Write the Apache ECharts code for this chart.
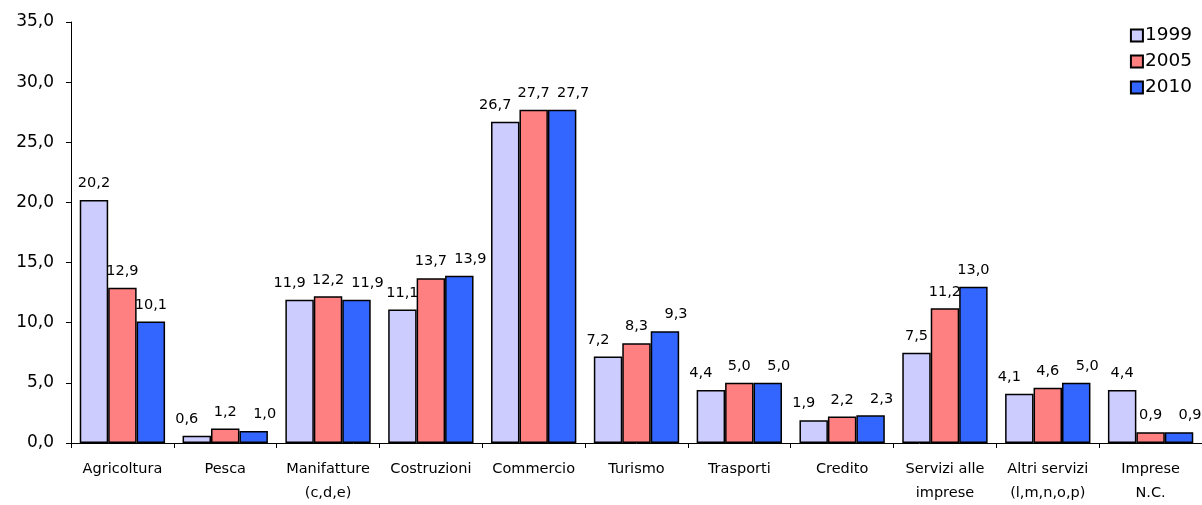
<!DOCTYPE html>
<html><head><meta charset="utf-8">
<script src="https://cdn.jsdelivr.net/npm/echarts@6/dist/echarts.min.js"></script>
<style>html,body{margin:0;padding:0;background:#fff}#c{width:1202px;height:505px}</style>
</head><body><div id="c"></div>
<script>
const categories = ["Agricoltura","Pesca","Manifatture\n(c,d,e)","Costruzioni","Commercio","Turismo","Trasporti","Credito","Servizi alle\nimprese","Altri servizi\n(l,m,n,o,p)","Imprese\nN.C."];
const seriesNames = ["1999","2005","2010"];
const v1999 = [20.2,0.6,11.9,11.1,26.7,7.2,4.4,1.9,7.5,4.1,4.4];
const v2005 = [12.9,1.2,12.2,13.7,27.7,8.3,5.0,2.2,11.2,4.6,0.9];
const v2010 = [10.1,1.0,11.9,13.9,27.7,9.3,5.0,2.3,13.0,5.0,0.9];
const colors = ["#CCCCFF","#FF8080","#3366FF"];
const font = "DejaVu Sans";
const fmt = v => v.toFixed(1).replace('.', ',');
const all = [v1999, v2005, v2010];
const chart = echarts.init(document.getElementById('c'));
// spread labels horizontally when neighbouring labels in a group would collide
function spread(p) {
  const s = p.seriesIndex, i = p.dataIndex;
  const pxPerUnit = 423 / 35;
  const close = (a, b) => Math.abs(all[a][i] - all[b][i]) * pxPerUnit < 16;
  if (s === 0 && close(0, 1)) return {dx: -10};
  if (s === 2 && close(1, 2)) return {dx: 11};
  return {};
}
const mk = (name, data, color) => ({
  name, type: 'bar', data, barGap: '0%', barCategoryGap: '17%',
  itemStyle: {color, borderColor: '#000', borderWidth: 1.5},
  label: {show: true, position: 'top', distance: 9, fontFamily: font, fontSize: 14.5, color: '#000',
    formatter: p => fmt(p.value)},
  labelLayout: spread,
  animation: false
});
chart.setOption({
  animation: false,
  textStyle: {fontFamily: font},
  grid: {left: 71, top: 22, width: 1138, height: 423, containLabel: false},
  legend: {orient: 'vertical', right: 5, top: 21, icon: 'rect', itemWidth: 12, itemHeight: 12, itemGap: 7,
    textStyle: {fontFamily: font, fontSize: 18.5, color: '#000', padding: [0,0,0,-3]},
    data: seriesNames},
  xAxis: {type: 'category', data: categories,
    axisLine: {lineStyle: {color: '#000', width: 1}},
    axisTick: {show: true, length: 5, lineStyle: {color: '#000'}},
    axisLabel: {fontFamily: font, fontSize: 14.5, color: '#000', margin: 14, lineHeight: 24, interval: 0}},
  yAxis: {type: 'value', min: 0, max: 35, interval: 5,
    axisLine: {show: true, lineStyle: {color: '#000', width: 1}},
    axisTick: {show: true, length: 5, lineStyle: {color: '#000'}},
    splitLine: {show: false},
    axisLabel: {fontFamily: font, fontSize: 17, color: '#000', margin: 17, formatter: v => fmt(v)}},
  series: [mk(seriesNames[0], v1999, colors[0]), mk(seriesNames[1], v2005, colors[1]), mk(seriesNames[2], v2010, colors[2])]
});
</script></body></html>
